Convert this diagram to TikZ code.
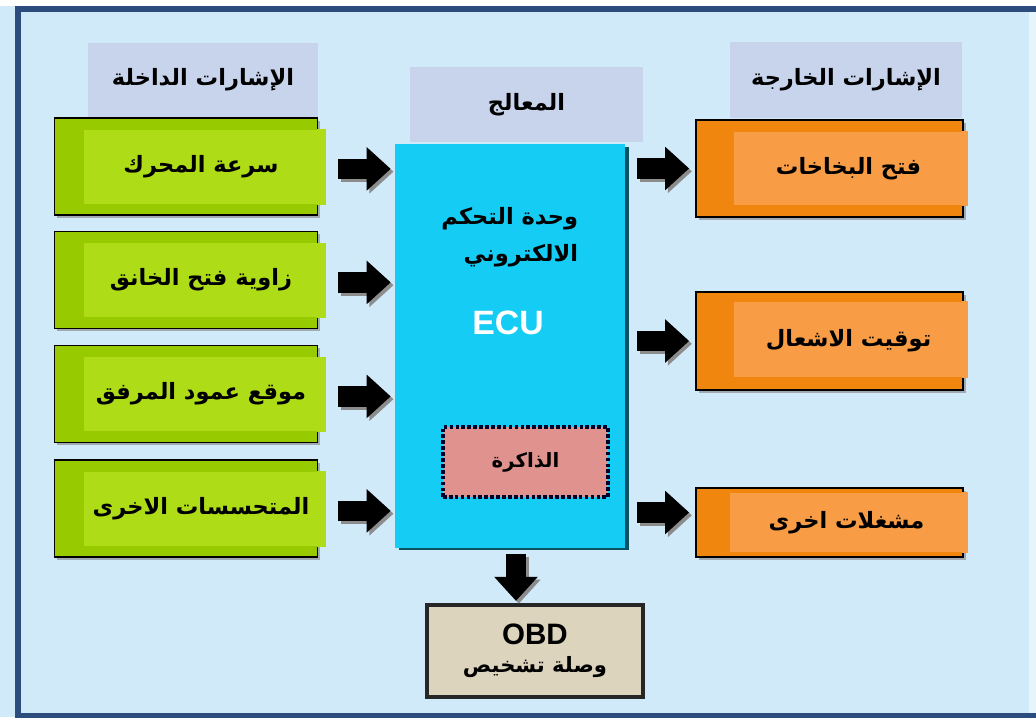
\documentclass[tikz,border=0pt]{standalone}
\usepackage{fontspec}
\setmainfont{Liberation Sans}
\newfontfamily\arabicfont[Script=Arabic]{DejaVu Sans}
\TeXXeTstate=1
\usetikzlibrary{arrows.meta,shadows}

\definecolor{bgblue}{HTML}{D0EAFA}
\definecolor{edgeblue}{HTML}{E6F4FC}
\definecolor{frameblue}{HTML}{2B4C7C}
\definecolor{headgray}{HTML}{C8D4EC}
\definecolor{limeout}{HTML}{98CA00}
\definecolor{limein}{HTML}{AEDC16}
\definecolor{orangeout}{HTML}{F0860E}
\definecolor{orangein}{HTML}{F89C46}
\definecolor{ecucyan}{HTML}{14CCF4}
\definecolor{mempink}{HTML}{E0928E}
\definecolor{obdtan}{HTML}{DDD4BE}

\newcommand{\arab}[1]{{\arabicfont\bfseries\beginR #1\endR}}

\begin{document}
\begin{tikzpicture}[x=0.025cm, y=-0.025cm,
    header/.style={fill=headgray, inner sep=0pt, font=\fontsize{16}{19}\selectfont},
    inbox/.style={draw=black, line width=1.2pt, fill=limeout, inner sep=0pt,
        minimum width=6.575cm, minimum height=2.425cm,
        font=\fontsize{16}{19}\selectfont,
        drop shadow={shadow xshift=2pt, shadow yshift=-2pt, opacity=0.6},
        path picture={\fill[limein] ([xshift=0.75cm,yshift=-0.3cm]path picture bounding box.north west)
            rectangle ([yshift=0.28cm]path picture bounding box.south east);}},
    outbox/.style={draw=black, line width=1.2pt, fill=orangeout, inner sep=0pt,
        minimum width=6.675cm, font=\fontsize{16}{19}\selectfont,
        drop shadow={shadow xshift=2pt, shadow yshift=-2pt, opacity=0.6}},
    sigarrow/.style={line width=0.52cm, -{Triangle[length=0.6cm, width=1.05cm]}},
    sigshadow/.style={sigarrow, black!45, transform canvas={shift={(0.07cm,-0.07cm)}}}
  ]
    \useasboundingbox (0,0) rectangle (1036,717);
    % background and frame
    \fill[bgblue] (0,0) rectangle (1036,717);
    \fill[white] (0,0) rectangle (1036,6);
    \fill[edgeblue] (1029,10) rectangle (1036,714);
    \draw[frameblue, line width=0.13cm] (1036,9) -- (18,9) -- (18,716) -- (1036,716);

    % column headers
    \node[header, minimum width=5.75cm, minimum height=1.85cm] (hin) at (203,80) {\arab{الإشارات الداخلة}};
    \node[header, minimum width=5.825cm, minimum height=1.875cm] (hcpu) at (526.5,104.5) {\arab{المعالج}};
    \node[header, minimum width=5.8cm, minimum height=1.9cm] (hout) at (846,80) {\arab{الإشارات الخارجة}};

    % input signals
    \node[inbox] (g1) at (186,166.5) {\hspace{0.75cm}\arab{سرعة المحرك}};
    \node[inbox] (g2) at (186,280) {\hspace{0.75cm}\arab{زاوية فتح الخانق}};
    \node[inbox] (g3) at (186,394) {\hspace{0.75cm}\arab{موقع عمود المرفق}};
    \node[inbox] (g4) at (186,508.5) {\hspace{0.75cm}\arab{المتحسسات الاخرى}};
    \foreach \n in {g1,g2,g3,g4}
        \fill[limein] ([xshift=-1pt,yshift=-0.3cm]\n.north east) rectangle ([xshift=0.2cm,yshift=0.28cm]\n.south east);

    % processor
    \node[fill=ecucyan, minimum width=5.75cm, minimum height=10.075cm, inner sep=0pt,
        drop shadow={shadow xshift=3pt, shadow yshift=-2pt, fill=black!60!ecucyan, opacity=1}] (ecu) at (510,346) {};
    \node[align=right, anchor=east, font=\fontsize{16}{26}\selectfont] (ecuname) at (583,237)
        {\arab{وحدة التحكم}\\ \arab{الالكتروني}};
    \node[white, font=\fontsize{24}{28}\selectfont\bfseries] (ecutag) at (508,323) {ECU};
    \node[fill=mempink, draw=black!85!blue, line width=2.6pt, dash pattern=on 2.6pt off 1.6pt,
        minimum width=4.125cm, minimum height=1.75cm, font=\fontsize{14}{17}\selectfont] (mem) at (525.5,462) {\arab{الذاكرة}};

    % diagnosis connector
    \node[fill=obdtan, draw=black!85, line width=3pt, minimum width=5.4cm, minimum height=2.3cm,
        align=center, font=\fontsize{15}{20}\selectfont] (obd) at (535,651)
        {{\fontsize{21}{22}\selectfont\bfseries OBD}\\ \arab{وصلة تشخيص}};

    % output signals
    \node[outbox, minimum height=2.425cm,
        path picture={\fill[orangein] ([xshift=0.95cm,yshift=-0.3cm]path picture bounding box.north west)
            rectangle ([yshift=0.3cm]path picture bounding box.south east);}] (o1) at (829.5,168.5) {\hspace{0.95cm}\arab{فتح البخاخات}};
    \node[outbox, minimum height=2.45cm,
        path picture={\fill[orangein] ([xshift=0.95cm,yshift=-0.25cm]path picture bounding box.north west)
            rectangle ([yshift=0.33cm]path picture bounding box.south east);}] (o2) at (829.5,341) {\hspace{0.95cm}\arab{توقيت الاشعال}};
    \node[outbox, minimum height=1.725cm,
        path picture={\fill[orangein] ([xshift=0.85cm,yshift=-0.12cm]path picture bounding box.north west)
            rectangle ([yshift=0.12cm]path picture bounding box.south east);}] (o3) at (829.5,522.5) {\hspace{0.85cm}\arab{مشغلات اخرى}};
    \fill[orangein] ([xshift=-1pt,yshift=-0.3cm]o1.north east) rectangle ([xshift=0.1cm,yshift=0.3cm]o1.south east);
    \fill[orangein] ([xshift=-1pt,yshift=-0.25cm]o2.north east) rectangle ([xshift=0.1cm,yshift=0.33cm]o2.south east);
    \fill[orangein] ([xshift=-1pt,yshift=-0.12cm]o3.north east) rectangle ([xshift=0.1cm,yshift=0.12cm]o3.south east);

    % arrows
    \foreach \n in {g1,g2,g3,g4} {
        \draw[sigshadow, shorten <=0.5cm, shorten >=0.1cm] ([yshift=-0.06cm]\n.east) -- ([yshift=-0.06cm]\n.east -| ecu.west);
        \draw[sigarrow, shorten <=0.5cm, shorten >=0.1cm] ([yshift=-0.06cm]\n.east) -- ([yshift=-0.06cm]\n.east -| ecu.west);
    }
    \foreach \n/\dy in {o1/0, o2/0, o3/0.25} {
        \draw[sigshadow, shorten <=0.3cm, shorten >=0.15cm] ([yshift=\dy cm]\n.west -| ecu.east) -- ([yshift=\dy cm]\n.west);
        \draw[sigarrow, shorten <=0.3cm, shorten >=0.15cm] ([yshift=\dy cm]\n.west -| ecu.east) -- ([yshift=\dy cm]\n.west);
    }
    \draw[sigshadow, shorten <=0.15cm, shorten >=0.05cm] ([xshift=0.15cm]ecu.south) -- ([xshift=0.15cm]ecu.south |- obd.north);
    \draw[sigarrow, shorten <=0.15cm, shorten >=0.05cm] ([xshift=0.15cm]ecu.south) -- ([xshift=0.15cm]ecu.south |- obd.north);
\end{tikzpicture}
\end{document}
